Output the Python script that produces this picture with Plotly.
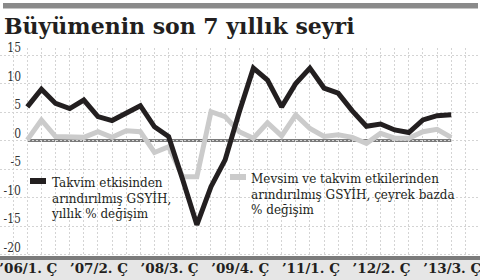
import plotly.graph_objects as go

periods = ["2006Q1", "2006Q2", "2006Q3", "2006Q4", "2007Q1", "2007Q2", "2007Q3", "2007Q4",
           "2008Q1", "2008Q2", "2008Q3", "2008Q4", "2009Q1", "2009Q2", "2009Q3", "2009Q4",
           "2010Q1", "2010Q2", "2010Q3", "2010Q4", "2011Q1", "2011Q2", "2011Q3", "2011Q4",
           "2012Q1", "2012Q2", "2012Q3", "2012Q4", "2013Q1", "2013Q2", "2013Q3"]
yearly_change = [5.9, 9.0, 6.5, 5.6, 7.1, 4.2, 3.5, 4.8, 6.1, 2.4, 0.7, -6.9, -14.8, -8.1, -3.4, 5.0,
                 12.7, 10.6, 5.9, 10.0, 12.7, 9.2, 8.3, 5.2, 2.5, 2.9, 1.85, 1.4, 3.6, 4.35, 4.5]
quarterly_change = [0.1, 3.6, 0.7, 0.55, 0.55, 1.55, 0.55, 1.7, 1.55, -2.1, -1.1, -6.35, -6.35, 5.05, 4.2, 1.55,
                    0.4, 3.1, 0.8, 4.5, 2.1, 0.7, 1.0, 0.55, -0.5, 1.25, 0.4, 0.4, 1.55, 1.95, 0.55]
tick_periods = ["2006Q1", "2007Q2", "2008Q3", "2009Q4", "2011Q1", "2012Q2", "2013Q3"]
tick_labels = ["\u201906/1. Ç", "\u201907/2. Ç", "\u201908/3. Ç", "\u201909/4. Ç", "\u201911/1. Ç", "\u201912/2. Ç", "\u201913/3. Ç"]
y_ticks = [-20, -15, -10, -5, 0, 5, 10, 15]

title = "Büyümenin son 7 yıllık seyri"
legend_yearly = ["Takvim etkisinden", "arındırılmış GSYİH,", "yıllık % değişim"]
legend_quarterly = ["Mevsim ve takvim etkilerinden", "arındırılmış GSYİH, çeyrek bazda", "% değişim"]

x = list(range(len(periods)))
W, H = 480, 280
T, B = 48, 256  # plot area top / bottom pixel


def py(pix):
    return (H - pix) / H


def px(pix):
    return pix / W


INK = "#231f20"
LIGHT = "#cbcbcb"
SERIF = "DejaVu Serif"

fig = go.Figure()
fig.add_trace(go.Scatter(x=x, y=quarterly_change, mode="lines",
                         line=dict(color=LIGHT, width=5), hoverinfo="skip"))
fig.add_trace(go.Scatter(x=x, y=yearly_change, mode="lines",
                         line=dict(color=INK, width=5), hoverinfo="skip"))
# decorative header rule drawn in its own tiny subplot
fig.add_trace(go.Bar(x=[0], y=[1], width=[1], marker=dict(color="#8a8a8a", line=dict(width=0)),
                     xaxis="x2", yaxis="y2", hoverinfo="skip"))

shapes = [
    # zero line
    dict(type="line", xref="x", yref="y", x0=x[0], x1=x[-1], y0=0, y1=0,
         line=dict(color="#7a7a7a", width=3), layer="below"),
    # bottom bands
    dict(type="rect", xref="paper", yref="paper", x0=0, x1=1, y0=py(280), y1=py(260),
         fillcolor="#e6e6e6", line=dict(width=0), layer="below"),
    dict(type="rect", xref="paper", yref="paper", x0=0, x1=1, y0=py(260), y1=py(256),
         fillcolor="#7b7b7b", line=dict(width=0), layer="below"),
    # legend keys
    dict(type="line", xref="paper", yref="paper", x0=px(30), x1=px(46), y0=py(181), y1=py(181),
         line=dict(color=INK, width=6)),
    dict(type="line", xref="paper", yref="paper", x0=px(230), x1=px(246), y0=py(177), y1=py(177),
         line=dict(color=LIGHT, width=6)),
]

annotations = [
    dict(text="<br>".join(legend_yearly), xref="paper", yref="paper", x=px(49), y=py(174),
         xanchor="left", yanchor="top", align="left", showarrow=False,
         font=dict(family=SERIF, size=12, color=INK)),
    dict(text="<br>".join(legend_quarterly), xref="paper", yref="paper", x=px(249), y=py(170),
         xanchor="left", yanchor="top", align="left", showarrow=False,
         font=dict(family=SERIF, size=12, color=INK)),
]

hidden = dict(visible=False, showgrid=False, zeroline=False, fixedrange=True)

fig.update_layout(
    width=W, height=H,
    margin=dict(l=0, r=0, t=0, b=0, pad=0),
    paper_bgcolor="white", plot_bgcolor="rgba(0,0,0,0)",
    showlegend=False,
    bargap=0,
    title=dict(text="<b>" + title + "</b>", x=px(4), xanchor="left", xref="paper",
               y=1 - 26 / H, yanchor="middle", yref="container",
               font=dict(family="DejaVu Serif", size=22, color=INK)),
    shapes=shapes,
    annotations=annotations,
    xaxis2=dict(domain=[px(3), px(478)], range=[-0.5, 0.5], anchor="y2", **hidden),
    yaxis2=dict(domain=[py(8.5), py(3)], range=[0, 1], anchor="x2", **hidden),
    xaxis=dict(range=[-27.3 / 14.13, (480 - 27.3) / 14.13], domain=[0, 1], anchor="y",
               tickmode="array", tickvals=[periods.index(p) for p in tick_periods],
               ticktext=tick_labels, ticks="", showline=False, zeroline=False,
               showgrid=True, gridcolor="#d4d4d4", griddash="2px,2px", gridwidth=1,
               minor=dict(tickmode="linear", tick0=0, dtick=1, showgrid=True,
                          gridcolor="#d4d4d4", griddash="2px,2px", gridwidth=1, ticks=""),
               tickfont=dict(family="DejaVu Serif", size=13.5, color=INK, weight="bold"),
               ticklabelstandoff=2, ticklabelshift=1, ticklabeloverflow="allow",
               automargin=False, fixedrange=True),
    yaxis=dict(range=[-(B - 140.5) / 5.7, (140.5 - T) / 5.7], domain=[py(B), py(T)], anchor="x",
               tickmode="array", tickvals=y_ticks, ticktext=[str(v) for v in y_ticks],
               ticks="", showline=False, zeroline=False,
               showgrid=True, gridcolor="#d4d4d4", griddash="2px,2px", gridwidth=1,
               ticklabelposition="outside", ticklabelstandoff=-22, ticklabelshift=-7,
               ticklabeloverflow="allow", automargin=False,
               tickfont=dict(family="DejaVu Serif Condensed, DejaVu Serif", size=12, color="#333333"),
               fixedrange=True),
)

fig.write_html("out.html", config={"displayModeBar": False})
